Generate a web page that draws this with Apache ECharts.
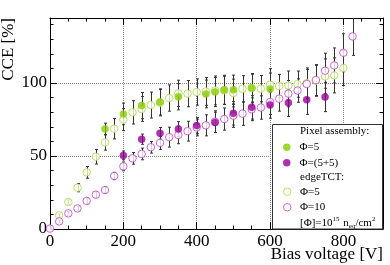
<!DOCTYPE html>
<html>
<head>
<meta charset="utf-8">
<script src="https://cdn.jsdelivr.net/npm/echarts@6/dist/echarts.min.js"></script>
<style>html,body{margin:0;padding:0;background:#fff;}#c{width:390px;height:265px;}</style>
</head>
<body>
<div id="c"></div>
<script>
// Pixel assembly, Phi=5
const pixV5 = [150, 200, 250, 300, 350, 425, 450, 475, 500, 550, 600];
const pixCCE5 = [68.5, 78.8, 84.5, 87.0, 90.6, 92.5, 93.8, 95.3, 95.4, 96.5, 95.8];
const pixErr5 = [4, 7.4, 9, 9, 9, 9.5, 10, 10, 10, 10, 11];
// Pixel assembly, Phi=(5+5)
const pixV55 = [200, 250, 300, 350, 400, 450, 500, 550, 600, 650, 700, 750];
const pixCCE55 = [50.4, 61.5, 65.5, 68.5, 70.8, 73.0, 79.2, 83.3, 84.9, 86.5, 88.5, 90.4];
const pixErr55 = [3, 3.5, 4, 5, 5.5, 7, 8, 8, 9, 9.5, 10, 10];
// edgeTCT, Phi=5
const tctV5 = [25, 50, 75, 100, 125, 150, 175, 200, 225, 250, 275, 300, 325, 350, 375, 400,
  425, 450, 475, 500, 525, 550, 575, 600, 625, 650, 675, 700, 725, 750, 775, 800];
const tctCCE5 = [9.3, 18.5, 28.3, 38.8, 49.5, 59.3, 68.7, 74.9, 79.9, 82.2, 84.9, 86.5, 89.7, 92.9, 92.7, 93.8,
  94.2, 94.9, 95.0, 93.1, 96.0, 96.5, 96.1, 98.8, 97.9, 98.2, 99.2, 99.8, 101.5, 104.5, 105.2, 110.3];
const tctErr5 = [1, 1.5, 2.8, 4, 5, 5.3, 7, 7.5, 8, 8.5, 8.9, 9, 9, 9, 9, 9,
  9.5, 9.9, 9.6, 9.5, 9, 9.5, 9, 11, 8, 10, 9, 10.5, 10.6, 12, 12, 12];
// edgeTCT, Phi=10
const tctV10 = [0, 25, 50, 75, 100, 125, 150, 175, 200, 225, 250, 275, 300, 325, 350, 375, 400,
  425, 450, 475, 500, 525, 550, 575, 600, 625, 650, 675, 700, 725, 750, 775, 800, 825];
const tctCCE10 = [0.3, 5.2, 10.7, 14.1, 19.2, 23.5, 26.7, 36.3, 42.9, 48.4, 51.4, 56.0, 59.0, 62.9, 64.4, 67.0, 69.5,
  71.0, 73.5, 75.3, 77.6, 79.0, 82.0, 83.2, 87.0, 89.3, 92.7, 94.8, 99.3, 102.0, 108.4, 112.0, 120.7, 131.9];
const tctErr10 = [0.5, 1, 1.2, 1.5, 1.8, 2, 2.2, 2.5, 3, 4, 4, 4, 4.5, 6.8, 6, 6.8, 5.7,
  7.2, 7.4, 7.6, 8, 8, 7.8, 8, 8.5, 8.6, 9, 8, 10, 10.6, 12, 12, 13, 13];

const xTicks = {min: 0, max: 908, major: 200, minor: 50};
const yTicks = {min: 0, max: 144.5, major: 50, minor: 10};

const FONT = 'Liberation Serif';
const GREEN = '#88cc00', GREEN_OPEN = '#a6d93a', MAG = '#990099', MAG_OPEN = '#c040c8';

function pts(v, y) { return v.map((x, i) => [x, y[i]]); }
function errPts(v, y, e) { return v.map((x, i) => [x, y[i], e[i]]); }

function errRender(params, api) {
  const x = api.value(0), y = api.value(1), e = api.value(2);
  const t = api.coord([x, y + e]), b = api.coord([x, y - e]);
  const cx = Math.round(t[0]) + 0.5, c = 1.5;
  const st = {stroke: '#333', lineWidth: 1};
  return {type: 'group', children: [
    {type: 'line', shape: {x1: cx, y1: t[1], x2: cx, y2: b[1]}, style: st},
    {type: 'line', shape: {x1: cx - c, y1: t[1], x2: cx + c, y2: t[1]}, style: st},
    {type: 'line', shape: {x1: cx - c, y1: b[1], x2: cx + c, y2: b[1]}, style: st}
  ]};
}

function xAx(grid, pos, step, len, main) {
  return {type: 'value', gridIndex: grid, position: pos, min: xTicks.min, max: xTicks.max, interval: step,
    axisLine: {show: main, onZero: false, lineStyle: {color: '#000', width: 1}},
    axisTick: {show: true, inside: true, length: len, lineStyle: {color: '#000'}},
    axisLabel: {show: main && pos === 'bottom', fontSize: 17, fontFamily: FONT, color: '#000', margin: 4, showMaxLabel: false},
    splitLine: {show: main && pos === 'bottom', lineStyle: {color: '#888', type: 'dotted', width: 1}}};
}
function yAx(grid, pos, step, len, main) {
  return {type: 'value', gridIndex: grid, position: pos, min: yTicks.min, max: yTicks.max, interval: step,
    axisLine: {show: main, onZero: false, lineStyle: {color: '#000', width: 1}},
    axisTick: {show: true, inside: true, length: len, lineStyle: {color: '#000'}},
    axisLabel: {show: main && pos === 'left', fontSize: 17, fontFamily: FONT, color: '#000', margin: 3, showMaxLabel: false},
    splitLine: {show: main && pos === 'left', lineStyle: {color: '#888', type: 'dotted', width: 1}}};
}

const gridRect = {left: 50, top: 18, width: 333, height: 211};
const legendText = {pix5: 'Φ=5', pix55: 'Φ=(5+5)', tct5: 'Φ=5', tct10: 'Φ=10'};
const legendTS = {fontSize: 11, fontFamily: FONT, color: '#000', lineHeight: 15.5, padding: [0, 0, 0, 4]};

const option = {
  animation: false,
  backgroundColor: '#fff',
  textStyle: {fontFamily: FONT},
  grid: [Object.assign({}, gridRect), Object.assign({}, gridRect)],
  xAxis: [
    xAx(0, 'bottom', xTicks.major, 7, true), xAx(0, 'top', xTicks.major, 7, true),
    xAx(1, 'bottom', xTicks.minor, 3.5, false), xAx(1, 'top', xTicks.minor, 3.5, false)
  ],
  yAxis: [
    yAx(0, 'left', yTicks.major, 7, true), yAx(0, 'right', yTicks.major, 7, true),
    yAx(1, 'left', yTicks.minor, 3.5, false), yAx(1, 'right', yTicks.minor, 3.5, false)
  ],
  legend: [
    {orient: 'vertical', left: 283, top: 139.5, padding: 0, itemGap: 0, itemWidth: 7.5, itemHeight: 7.5,
     selectedMode: false, textStyle: legendTS, formatter: n => legendText[n], z: 10,
     data: [{name: 'pix5', icon: 'circle'}, {name: 'pix55', icon: 'circle'}]},
    {orient: 'vertical', left: 283, top: 184, padding: 0, itemGap: 0, itemWidth: 7.5, itemHeight: 7.5,
     selectedMode: false, textStyle: legendTS, formatter: n => legendText[n], z: 10,
     data: [{name: 'tct5', icon: 'circle', itemStyle: {color: '#fff', borderColor: GREEN_OPEN, borderWidth: 1}},
            {name: 'tct10', icon: 'circle', itemStyle: {color: '#fff', borderColor: MAG_OPEN, borderWidth: 1}}]}
  ],
  graphic: [
    {type: 'rect', z: 5, shape: {x: 272.5, y: 124.5, width: 110, height: 104.5},
     style: {fill: '#fff', stroke: '#333', lineWidth: 1}},
    {type: 'text', z: 6, x: 300, y: 131.5, style: {text: 'Pixel assembly:', font: '11px "Liberation Serif"', fill: '#000', align: 'left', verticalAlign: 'middle'}},
    {type: 'text', z: 6, x: 300, y: 177.5, style: {text: 'edgeTCT:', font: '11px "Liberation Serif"', fill: '#000', align: 'left', verticalAlign: 'middle'}},
    {type: 'text', z: 6, x: 300, y: 223, style: {text: '[Φ]=10{sup|15} n{sub|eq}/cm{sup|2}', font: '11px "Liberation Serif"', fill: '#000',
      align: 'left', verticalAlign: 'middle',
      rich: {sup: {fontSize: 7, fontFamily: FONT, verticalAlign: 'top', lineHeight: 14, padding: [0, 1, 0, 0]},
             sub: {fontSize: 7, fontFamily: FONT, verticalAlign: 'bottom', lineHeight: 14}}}},
    {type: 'text', z: 6, x: 9, y: 18, rotation: Math.PI / 2, style: {text: 'CCE [%]', font: '17px "Liberation Serif"', fill: '#000', align: 'right', verticalAlign: 'middle'}},
    {type: 'text', z: 6, x: 383, y: 255, style: {text: 'Bias voltage [V]', font: '17px "Liberation Serif"', fill: '#000', align: 'right', verticalAlign: 'middle'}}
  ],
  series: [
    {type: 'custom', name: 'err_tct5', xAxisIndex: 0, yAxisIndex: 0, renderItem: errRender, clip: true, z: 2, data: errPts(tctV5, tctCCE5, tctErr5)},
    {type: 'custom', name: 'err_tct10', xAxisIndex: 0, yAxisIndex: 0, renderItem: errRender, clip: true, z: 2, data: errPts(tctV10, tctCCE10, tctErr10)},
    {type: 'custom', name: 'err_pix5', xAxisIndex: 0, yAxisIndex: 0, renderItem: errRender, clip: true, z: 2, data: errPts(pixV5, pixCCE5, pixErr5)},
    {type: 'custom', name: 'err_pix55', xAxisIndex: 0, yAxisIndex: 0, renderItem: errRender, clip: true, z: 2, data: errPts(pixV55, pixCCE55, pixErr55)},
    {type: 'scatter', name: 'tct5', xAxisIndex: 0, yAxisIndex: 0, z: 3, symbol: 'circle', symbolSize: 7.5,
     itemStyle: {color: '#fff', borderColor: GREEN_OPEN, borderWidth: 1}, data: pts(tctV5, tctCCE5)},
    {type: 'scatter', name: 'tct10', xAxisIndex: 0, yAxisIndex: 0, z: 3, symbol: 'circle', symbolSize: 7.5,
     itemStyle: {color: '#fff', borderColor: MAG_OPEN, borderWidth: 1}, data: pts(tctV10, tctCCE10)},
    {type: 'scatter', name: 'pix5', xAxisIndex: 0, yAxisIndex: 0, z: 4, symbol: 'circle', symbolSize: 7.5,
     itemStyle: {color: GREEN}, data: pts(pixV5, pixCCE5)},
    {type: 'scatter', name: 'pix55', xAxisIndex: 0, yAxisIndex: 0, z: 4, symbol: 'circle', symbolSize: 7.5,
     itemStyle: {color: MAG}, data: pts(pixV55, pixCCE55)}
  ]
};

const chart = echarts.init(document.getElementById('c'), null, {renderer: 'canvas'});
chart.setOption(option);
</script>
</body>
</html>
